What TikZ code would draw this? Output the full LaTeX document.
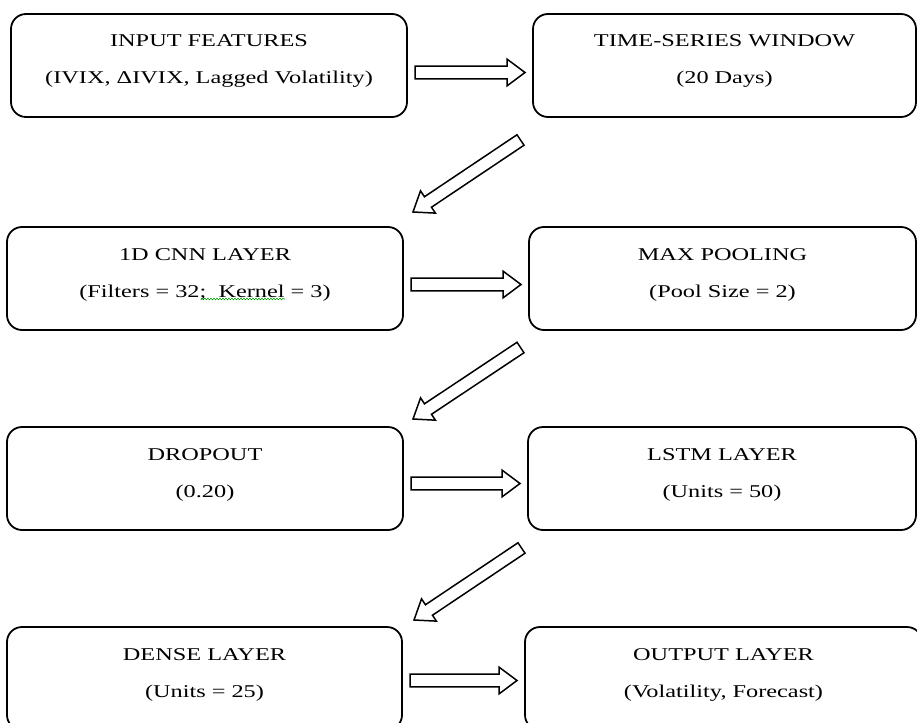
\documentclass[tikz,border=0pt]{standalone}
\usepackage{fontspec}
\setmainfont{Liberation Serif}[FakeStretch=1.35]
\usetikzlibrary{calc,decorations.pathmorphing}

\tikzset{
  box/.style={draw, line width=1.8pt, rounded corners=15pt, inner sep=0pt, outer sep=0pt},
  hd/.style={anchor=base, inner sep=0pt, font=\fontsize{18}{20}\selectfont},
  fat/.style={draw, fill=white, line width=1.5pt, line join=miter,
    to path={let \p1=($(\tikztotarget)!18pt!(\tikztostart)$) in
      ($(\tikztostart)!6.3pt!90:(\tikztotarget)$)
      -- ($(\p1)!6.3pt!90:(\tikztotarget)$)
      -- ($(\p1)!13.4pt!90:(\tikztotarget)$)
      -- (\tikztotarget)
      -- ($(\p1)!13.4pt!-90:(\tikztotarget)$)
      -- ($(\p1)!6.3pt!-90:(\tikztotarget)$)
      -- ($(\tikztostart)!6.3pt!-90:(\tikztotarget)$) -- cycle}},
}

\begin{document}
\begin{tikzpicture}[x=1pt, y=-1pt]
    \useasboundingbox (0,0) rectangle (917,722);
    \clip (0,0) rectangle (917,722);
%
    % boxes
    \node[box, minimum width=396pt, minimum height=103pt] (inp) at (209,65.5) {};
    \node[box, minimum width=383pt, minimum height=103pt] (win) at (724.5,65.5) {};
    \node[box, minimum width=396pt, minimum height=103pt] (cnn) at (205,278.5) {};
    \node[box, minimum width=387pt, minimum height=103pt] (pool) at (722.5,278.5) {};
    \node[box, minimum width=396pt, minimum height=103pt] (drop) at (205,478.5) {};
    \node[box, minimum width=388pt, minimum height=103pt] (lstm) at (722,478.5) {};
    \node[box, minimum width=395pt, minimum height=103pt] (dense) at (204.5,678.5) {};
    \node[box, minimum width=397pt, minimum height=103pt] (outp) at (723.5,678.5) {};
%
    % labels
    \node[hd] (inp-a) at ([yshift=-33pt]inp.north) {INPUT FEATURES};
    \node[hd] (inp-b) at ([yshift=-70pt]inp.north) {(IVIX, ΔIVIX, Lagged Volatility)};
    \node[hd] (win-a) at ([yshift=-33pt]win.north) {TIME-SERIES WINDOW};
    \node[hd] (win-b) at ([yshift=-70pt]win.north) {(20 Days)};
    \node[hd] (cnn-a) at ([yshift=-33pt]cnn.north) {1D CNN LAYER};
    \node[hd] (cnn-b) at ([yshift=-70pt]cnn.north) {(Filters = 32;\ \ Kernel = 3)};
    \node[hd] (pool-a) at ([yshift=-33pt]pool.north) {MAX POOLING};
    \node[hd] (pool-b) at ([yshift=-70pt]pool.north) {(Pool Size = 2)};
    \node[hd] (drop-a) at ([yshift=-33pt]drop.north) {DROPOUT};
    \node[hd] (drop-b) at ([yshift=-70pt]drop.north) {(0.20)};
    \node[hd] (lstm-a) at ([yshift=-33pt]lstm.north) {LSTM LAYER};
    \node[hd] (lstm-b) at ([yshift=-70pt]lstm.north) {(Units = 50)};
    \node[hd] (dense-a) at ([yshift=-33pt]dense.north) {DENSE LAYER};
    \node[hd] (dense-b) at ([yshift=-70pt]dense.north) {(Units = 25)};
    \node[hd] (outp-a) at ([yshift=-33pt]outp.north) {OUTPUT LAYER};
    \node[hd] (outp-b) at ([yshift=-70pt]outp.north) {(Volatility, Forecast)};
    % spell-check mark under Kernel
    \draw[green!60!black, line width=0.6pt, decorate,
          decoration={snake, amplitude=0.8pt, segment length=3pt}] (201,299) -- (285,299);
%
    % arrows
    \draw[fat] ([xshift=8pt,yshift=-7pt]inp.east) to ([xshift=-8pt,yshift=-7pt]win.west);
    \draw[fat] ([xshift=-12.5pt,yshift=-23pt]win.south west) to ([xshift=10pt,yshift=15pt]cnn.north east);
    \draw[fat] ([xshift=8pt,yshift=-6pt]cnn.east) to ([xshift=-8pt,yshift=-6pt]pool.west);
    \draw[fat] ([xshift=-8.5pt,yshift=-17.5pt]pool.south west) to ([xshift=10pt,yshift=8pt]drop.north east);
    \draw[fat] ([xshift=8pt,yshift=-5pt]drop.east) to ([xshift=-8pt,yshift=-5pt]lstm.west);
    \draw[fat] ([xshift=-6.5pt,yshift=-18pt]lstm.south west) to ([xshift=12pt,yshift=7pt]dense.north east);
    \draw[fat] ([xshift=8pt,yshift=-2pt]dense.east) to ([xshift=-8pt,yshift=-2pt]outp.west);
\end{tikzpicture}
\end{document}
